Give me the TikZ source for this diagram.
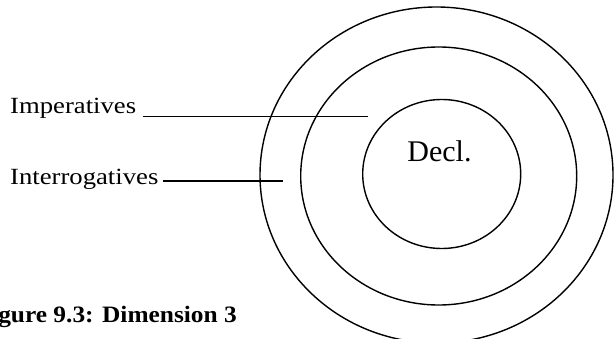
\documentclass[tikz,border=0pt]{standalone}
\usepackage{fontspec}
\setmainfont{Liberation Serif}
\newfontfamily\labelfont[FakeStretch=1.15]{Liberation Serif}
\newfontfamily\capfont[FakeStretch=1.08]{Liberation Serif}
\tikzset{
  ring/.style={draw=black, line width=1.4pt},
  leader/.style={draw=black, line width=1.6pt},
  sidelabel/.style={inner sep=0pt, font=\labelfont\fontsize{23.2}{27}\selectfont},
  centrelabel/.style={inner sep=0pt, font=\fontsize{30}{34}\selectfont},
  captionlabel/.style={inner sep=0pt, font=\capfont\bfseries\fontsize{23.5}{27}\selectfont}
}
\begin{document}
\begin{tikzpicture}[x=1pt,y=-1pt]
  \useasboundingbox (0,0) rectangle (615,339);
  % three nested sentence-type regions
  \draw[ring] (436.5,175) ellipse [x radius=176.5, y radius=168];
  \draw[ring] (438.7,176) ellipse [x radius=138, y radius=129];
  \draw[ring] (441.7,174) ellipse [x radius=79, y radius=74.5];
  \node[centrelabel, anchor=base] (decl) at (439.5,161.7) {Decl.};
  % labels with leader lines
  \node[sidelabel, anchor=base west] (imp) at (10,114) {Imperatives};
  \node[sidelabel, anchor=base west] (int) at (10,185) {Interrogatives};
  \coordinate (impstart) at (142.7,116.7);
  \coordinate (impend) at (368,116.7);
  \coordinate (intstart) at (163,181);
  \coordinate (intend) at (283.3,181);
  \draw[leader] (impstart) -- (impend);
  \draw[leader] (intstart) -- (intend);
  % caption, starting beyond the left edge
  \node[captionlabel, anchor=base east] (cap) at (237,322.3) {Figure 9.3: Dimension 3};
\end{tikzpicture}
\end{document}
